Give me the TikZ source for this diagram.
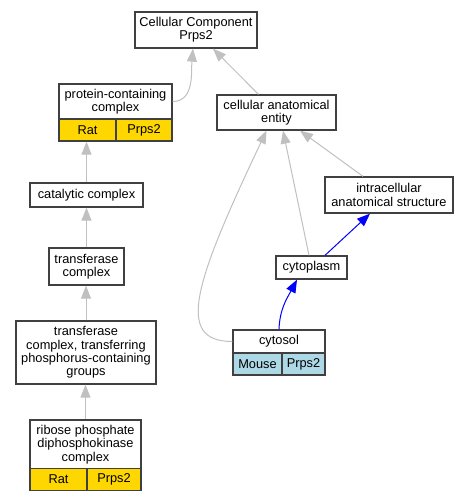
\documentclass[tikz,border=0pt]{standalone}
\usepackage{fontspec}
\setmainfont{Liberation Sans}
\usetikzlibrary{arrows.meta}
\definecolor{edgegray}{HTML}{C0C0C0}
\definecolor{boxline}{HTML}{404040}
\definecolor{ratgold}{HTML}{FFD700}
\definecolor{mouseblue}{HTML}{ADD8E6}
\tikzset{
  term/.style={draw=boxline, line width=1.3pt, fill=white, align=center, inner sep=0pt,
    font=\fontsize{12.8}{13.3}\selectfont},
  cell/.style={term, minimum height=22pt},
  isa/.style={draw=edgegray, line width=1pt, -{Triangle[length=13pt,width=10pt]}},
  partof/.style={draw=blue, line width=1pt, -{Triangle[length=13pt,width=10pt]}},
}
\begin{document}
\begin{tikzpicture}[x=1pt,y=-1pt]
\useasboundingbox (0,0) rectangle (469,501);
% terms
\node[term, minimum width=122pt, minimum height=36pt] (cc) at (196,30) {Cellular Component\\Prps2};
\node[term, minimum width=113pt, minimum height=35pt] (pcc) at (115.5,101.5) {protein-containing\\complex};
\node[cell, fill=ratgold, minimum width=57pt] (pccrat) at (87.5,130) {Rat};
\node[cell, fill=ratgold, minimum width=56pt] (pccgene) at (144,130) {Prps2};
\node[term, minimum width=119pt, minimum height=35pt] (cae) at (276.5,112.5) {cellular anatomical\\entity};
\node[term, minimum width=113pt, minimum height=24pt] (cat) at (86.5,195) {catalytic complex};
\node[term, minimum width=128pt, minimum height=36pt] (ias) at (389,195) {intracellular\\anatomical structure};
\node[term, minimum width=75pt, minimum height=37pt] (tc) at (86.5,266.5) {transferase\\complex};
\node[term, minimum width=71pt, minimum height=23pt] (cyto) at (311.5,267.5) {cytoplasm};
\node[term, minimum width=92pt, minimum height=23pt] (cytosol) at (279,341.5) {cytosol};
\node[cell, fill=mouseblue, minimum width=49pt] (cytosolmouse) at (257.5,364) {Mouse};
\node[cell, fill=mouseblue, minimum width=43pt] (cytosolgene) at (303.5,364) {Prps2};
\node[term, minimum width=140pt, minimum height=63pt] (tcp) at (86,352.5) {transferase\\complex, transferring\\phosphorus-containing\\groups};
\node[term, minimum width=111pt, minimum height=49pt] (rpd) at (85.5,444.5) {ribose phosphate\\diphosphokinase\\complex};
\node[cell, fill=ratgold, minimum width=57pt] (rpdrat) at (58.5,479.5) {Rat};
\node[cell, fill=ratgold, minimum width=54pt] (rpdgene) at (114,479.5) {Prps2};
% is_a
\draw[isa] (pcc.east) to[out=0,in=-95] ([xshift=-3pt]cc.south);
\draw[isa] ([xshift=-18pt]cae.north) -- ([xshift=17pt]cc.south);
\draw[isa] (cat.north) -- (cat.north |- pccrat.south);
\draw[isa] (tc.north) -- (cat.south);
\draw[isa] (tcp.north) -- (tcp.north |- tc.south);
\draw[isa] (rpd.north) -- (rpd.north |- tcp.south);
\draw[isa] (cytosol.west) .. controls +(-58,0) and +(-72,152) .. ([xshift=-10pt]cae.south);
\draw[isa] ([xshift=-2.5pt]cyto.north) -- ([xshift=6.5pt]cae.south);
\draw[isa] ([xshift=-26pt]ias.north) -- ([xshift=23.5pt]cae.south);
% part_of
\draw[partof] ([xshift=13.5pt]cyto.north) -- ([xshift=-19pt]ias.south);
\draw[partof] (cytosol.north) to[out=88,in=-118] ([xshift=-14.5pt]cyto.south);
\end{tikzpicture}
\end{document}
